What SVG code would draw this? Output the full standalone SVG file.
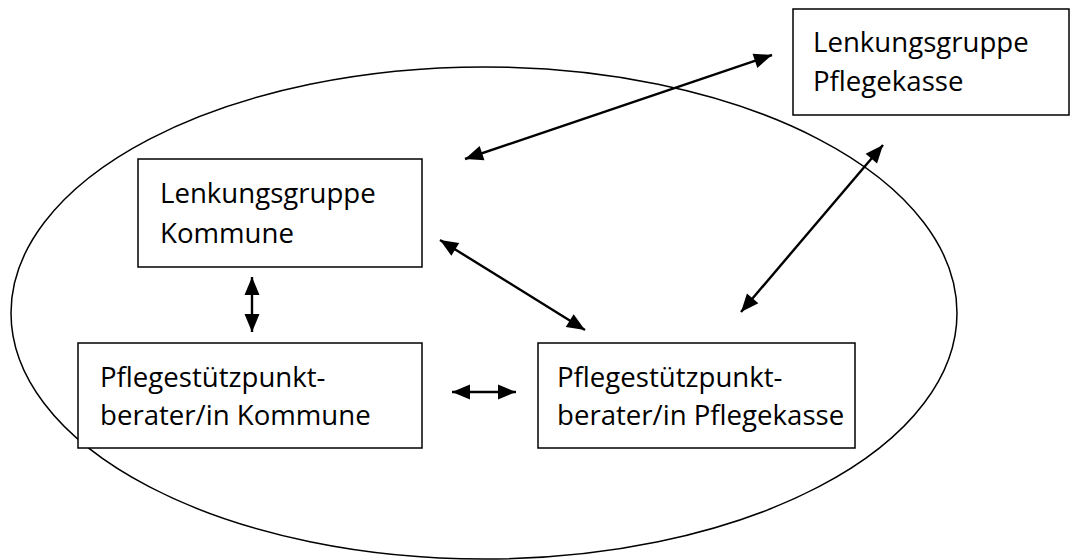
<svg xmlns="http://www.w3.org/2000/svg" width="1071" height="560" viewBox="0 0 1071 560">
<style>
.box{fill:#fff;stroke:#000;stroke-width:1.5}
.lbl{font-family:"Open Sans","Liberation Sans",sans-serif;font-size:27.6px;fill:#000}
.con{stroke:#000;stroke-width:2.4;fill:none;marker-start:url(#ah);marker-end:url(#ah)}
</style>
<defs>
<marker id="ah" markerUnits="userSpaceOnUse" markerWidth="20" markerHeight="20" viewBox="0 0 20 20" refX="19" refY="10" orient="auto-start-reverse">
<path d="M1,2.5 L19,10 L1,17.5 Z" fill="#000"/>
</marker>
</defs>
<ellipse id="frame" cx="484" cy="313" rx="473" ry="246" fill="none" stroke="#000" stroke-width="1.5"/>
<g id="lenkung-kommune">
<rect class="box" x="138" y="159" width="284" height="108"/>
<text class="lbl" x="160" y="203">Lenkungsgruppe</text>
<text class="lbl" x="160" y="243">Kommune</text>
</g>
<g id="lenkung-pflegekasse">
<rect class="box" x="793" y="9" width="276" height="106"/>
<text class="lbl" x="813" y="52">Lenkungsgruppe</text>
<text class="lbl" x="813" y="91">Pflegekasse</text>
</g>
<g id="berater-kommune">
<rect class="box" x="78" y="343" width="344" height="105"/>
<text class="lbl" x="100" y="387">Pflegestützpunkt-</text>
<text class="lbl" x="100" y="425">berater/in Kommune</text>
</g>
<g id="berater-pflegekasse">
<rect class="box" x="538" y="343" width="317" height="105"/>
<text class="lbl" x="557" y="387">Pflegestützpunkt-</text>
<text class="lbl" x="557" y="425">berater/in Pflegekasse</text>
</g>
<g id="connectors">
<line class="con" x1="465" y1="159" x2="772" y2="55"/>
<line class="con" x1="440" y1="240" x2="585" y2="330"/>
<line class="con" x1="883" y1="145" x2="741" y2="312"/>
<line class="con" x1="252" y1="277" x2="252" y2="332"/>
<line class="con" x1="452" y1="392" x2="516" y2="392"/>
</g>
</svg>
